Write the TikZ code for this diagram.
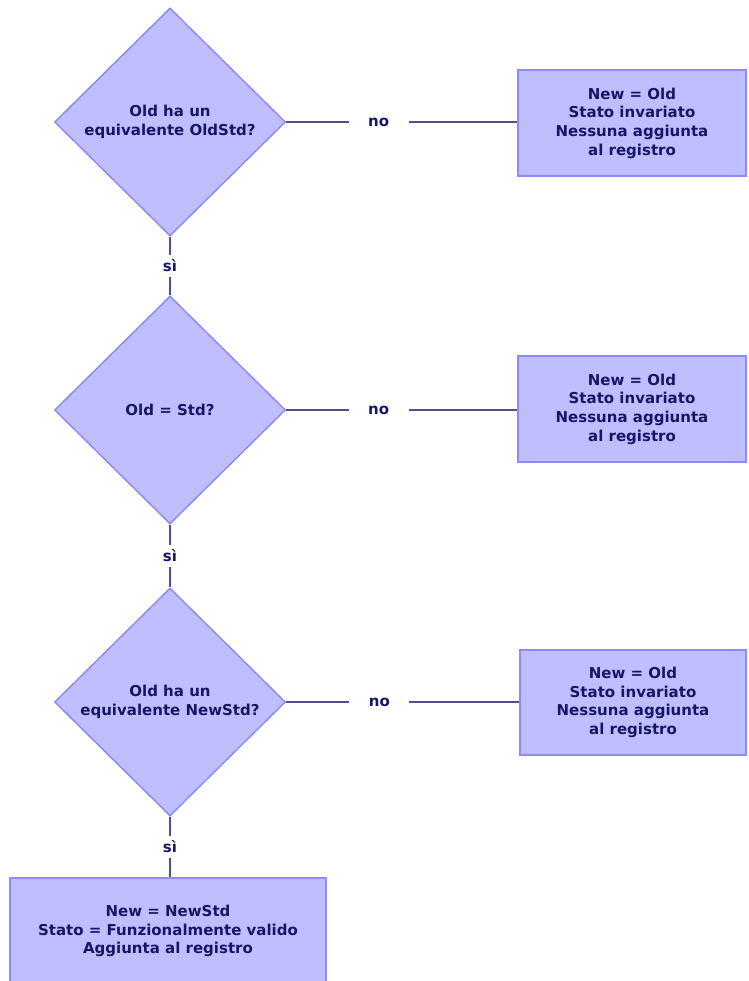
\documentclass[tikz,border=0pt]{standalone}
\usepackage{fontspec}
\setmainfont{DejaVu Sans}
\usetikzlibrary{shapes.geometric}
\definecolor{shapefill}{HTML}{BFBFFF}
\definecolor{shapeline}{HTML}{8C8CF5}
\definecolor{txt}{HTML}{161668}
\definecolor{conn}{HTML}{50508C}
\begin{document}
\begin{tikzpicture}[x=1pt,y=-1pt,
  every node/.style={font=\fontsize{15}{18.7}\selectfont\bfseries, text=txt, align=center},
  decision/.style={diamond, draw=shapeline, fill=shapefill, line width=1.5pt, inner sep=0pt, minimum width=231pt, minimum height=228pt},
  action/.style={rectangle, draw=shapeline, fill=shapefill, line width=1.5pt, inner sep=0pt},
  conn/.style={draw=conn, line width=1.5pt},
  lbl/.style={fill=white, inner sep=0pt, minimum width=60pt, minimum height=22pt}]
\useasboundingbox (0,0) rectangle (748,981);
\fill[white] (0,0) rectangle (748,981);
\node[decision] (d1) at (170,122) {Old ha un\\equivalente OldStd?};
\node[decision] (d2) at (170,410) {Old = Std?};
\node[decision] (d3) at (170,702) {Old ha un\\equivalente NewStd?};
\node[action, minimum width=228pt, minimum height=106pt] (b1) at (632,123) {New = Old\\Stato invariato\\Nessuna aggiunta\\al registro};
\node[action, minimum width=228pt, minimum height=106pt] (b2) at (632,409) {New = Old\\Stato invariato\\Nessuna aggiunta\\al registro};
\node[action, minimum width=226pt, minimum height=105pt] (b3) at (633,702.5) {New = Old\\Stato invariato\\Nessuna aggiunta\\al registro};
\node[action, minimum width=316pt, minimum height=106pt] (b4) at (168,931) {New = NewStd\\Stato = Funzionalmente valido\\Aggiunta al registro};
\draw[conn] (d1.east) -- node[lbl, pos=0.4] {no} (b1.west |- d1.east);
\draw[conn] (d2.east) -- node[lbl, pos=0.4] {no} (b2.west |- d2.east);
\draw[conn] (d3.east) -- node[lbl, pos=0.4] {no} (b3.west |- d3.east);
\draw[conn] (d1.south) -- node[lbl] {sì} (d2.north);
\draw[conn] (d2.south) -- node[lbl] {sì} (d3.north);
\draw[conn] (d3.south) -- node[lbl] {sì} (d3.south |- b4.north);
\end{tikzpicture}
\end{document}
